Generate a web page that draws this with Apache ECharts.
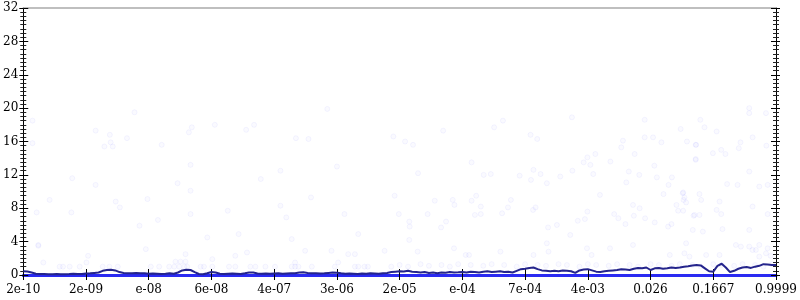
<!DOCTYPE html>
<html>
<head>
<meta charset="utf-8">
<script src="https://cdn.jsdelivr.net/npm/echarts@6/dist/echarts.min.js"></script>
<style>html,body{margin:0;padding:0;background:#fff}#c{width:800px;height:300px}</style>
</head>
<body>
<div id="c"></div>
<script>
// tick labels along x (one every 15 steps)
var tickLabels = ['2e-10','2e-09','e-08','6e-08','4e-07','3e-06','2e-05','e-04','7e-04','4e-03','0.026','0.1667','0.9999'];
// line values, 181 steps
var lineValues = [
 0.45,0.42,0.3,0.15,0.12,0.12,0.1,0.1,0.12,0.1,0.1,0.12,0.15,0.12,0.12,
 0.18,0.2,0.25,0.3,0.5,0.6,0.62,0.55,0.35,0.25,0.2,0.22,0.25,0.2,0.22,
 0.15,0.18,0.15,0.12,0.15,0.2,0.15,0.3,0.55,0.62,0.6,0.35,0.12,0.1,0.2,
 0.35,0.3,0.15,0.12,0.15,0.18,0.15,0.12,0.2,0.3,0.3,0.18,0.15,0.18,0.15,
 0.18,0.2,0.15,0.18,0.2,0.22,0.3,0.32,0.25,0.2,0.22,0.18,0.2,0.25,0.3,
 0.28,0.2,0.15,0.18,0.15,0.12,0.18,0.15,0.2,0.18,0.15,0.2,0.25,0.35,0.4,
 0.45,0.42,0.5,0.4,0.35,0.3,0.35,0.25,0.3,0.22,0.3,0.28,0.35,0.3,0.32,
 0.35,0.3,0.4,0.35,0.3,0.38,0.45,0.35,0.4,0.45,0.35,0.4,0.3,0.5,0.7,
 0.75,0.85,0.9,0.7,0.55,0.5,0.45,0.5,0.45,0.55,0.5,0.45,0.25,0.55,0.65,
 0.7,0.55,0.4,0.35,0.45,0.5,0.55,0.6,0.7,0.65,0.6,0.75,0.85,0.8,0.9,
 0.6,0.8,0.85,0.75,0.8,0.9,0.85,0.9,1.0,1.05,1.15,1.2,1.15,0.8,0.45,
 0.4,1.1,1.35,0.9,0.35,0.5,0.75,0.9,0.95,0.85,1.0,1.1,1.3,1.25,1.2,
 1.2
];
// faint scatter points [step, value]
var scatterPoints = [
 [2.2,18.5],[2.2,15.8],[3.2,7.5],[3.6,3.5],[4.8,1.5],[6.3,9],[11.5,7.5],[11.7,11.6],[17.3,17.3],[17.3,10.8],[15.5,2.3],[15.1,1.5],
 [20.7,16.8],[20.9,15.9],[19.4,15.4],[21.4,15.4],[24.8,16.4],[33.1,15.6],[39.6,17.1],[40.3,17.7],[45.8,18],[53.3,17.4],[55.2,18],
 [65.2,16.4],[68.2,16.3],[72.7,19.9],[88.5,16.6],[26.6,19.5],[40,13.2],[61.5,12.5],[56.8,11.5],[75,13],[36.9,11],[40,10.1],
 [22.1,8.8],[23.1,8.1],[29.7,9.1],[68.8,9.3],[88.8,9.5],[32.2,6.6],[27.8,5.9],[40,7.3],[48.9,7.7],[61.5,8.3],[62.9,6.9],[76.8,7.3],[89.8,7.3],
 [131.2,18.9],[114.7,18.5],[112.6,17.7],[100.4,17.3],[148.6,18.6],[157.2,17.5],[121.3,16.8],[122.9,16.3],[91.3,16],[93.2,15.6],
 [143.4,16.1],[143,15.3],[148.6,16.5],[150.6,16.5],[152.6,15.9],[158.7,16],[160.8,15.6],[146.2,14.5],[136.8,14.5],[134.9,14.1],
 [134,13.5],[135.6,13.2],[140.4,13.6],[107.2,13.5],[160.8,13.8],[150.9,13.1],[94.4,12.2],[110.1,12],[111.8,12.1],[122,12.6],
 [123.7,12.1],[118.7,11.9],[121.4,11.4],[125.2,11],[128.4,11.8],[131.3,12.5],[136.3,12.1],[144.8,12.4],[147.3,12],[144.2,11.1],
 [151.5,11.7],[155.1,11.7],[154.3,10.8],[153.1,9.7],[157.8,9.9],[158.1,9.3],[137.9,9.6],[98.4,8.9],[102.7,9],[103.1,8.4],
 [108.3,9.5],[107.2,8.9],[109.4,8.2],[116.6,9],[115.9,8.1],[122.5,8.1],[121.9,7.8],[145.8,8.4],[147.4,8],[156.2,8.4],[156.6,7.7],
 [157.8,7.7],[158.5,8.7],[96.7,7.3],[108,7.2],[109.4,7.3],[114.5,7.4],[134.9,7.6],[141.3,7.3],[142.3,6.8],[146,7.1],[148.7,6.8],
 [151,6.3],[160.3,7.1],[92.3,6.4],[92.4,5.8],[99.9,5.7],[101.1,6.4],[132.6,6.5],[134.3,6.7],[127.6,6],[125.5,5.7],[144,6.1],[155,6.1],[154.2,5.8],
 [173.6,20],[173.6,19.4],[177.6,19.4],[161.9,18.6],[162.9,17.7],[165.8,17.2],[174.4,16.5],[171.5,15.9],[160.9,15.6],[177.7,15.5],
 [164.9,14.6],[166.9,15],[167.9,14.5],[171.1,15.2],[160.8,13.9],[173.6,12.4],[168.3,10.9],[170.8,10.8],[176,10.6],[178,10.8],
 [157.7,9.8],[161.7,9.7],[157.9,9],[162.1,9],[166.5,8.8],[165.8,7.8],[166.9,7.3],[160.5,7.2],[161.7,7.2],[174.4,8.2],[178,7.3],
 [160.1,5.4],[162.5,5.2],[167.2,5.5],[173.6,5.4],[171.6,3.4],[173.6,3.4],[176,3.6],[175.2,3],[178,3.2],[158.1,2.6],[159.3,2.2],[177.6,2.6],[178.7,2.3],
 [3.6,3.6],[29.3,3.1],[38.8,2.5],[44,4.5],[45.2,1.9],[51.5,4.9],[50.7,2.3],[53.5,2.7],[64.2,4.3],[67.4,2.9],[65,1.5],[73.7,2.9],
 [77.7,2.5],[79.3,2.5],[80.1,4.9],[86.4,2.9],[75.3,1.5],[36.4,1.6],[37.6,1.6],[38.8,1.6],
 [8.7,1],[9.5,1],[11.1,1],[13.5,1],[19,1],[20.6,1],[22.6,1],[30.5,1],[32.5,1],[34.9,1],[36.1,1],[37.3,1],[38.5,1],[39.2,1],
 [42.4,1],[43.2,1],[45.2,1],[49.2,1],[50.7,1],[54.3,1],[55.5,1],[57.9,1],[60.2,1],[64.2,1],[65,1],[65.8,1],[69,1],[74.5,1],
 [79.3,1],[80.1,1],[81.6,1],[82.4,1],[88,1],
 [92.3,4.2],[94.3,2.8],[105.8,2.4],[106.6,2.4],[103,3.2],[125.2,3.8],[130.8,4.8],[114.1,2.8],[122,2.4],[125.6,2.8],[134.8,3.2],
 [135.9,2.4],[140.3,3.2],[145.8,3.6],[154.6,2.4],[158.5,3.8],[163.3,2.4],[166.5,2.4],[170.4,3.6],[174.4,3],[176,2.2],
 [90,1.2],[92,1.0],[95,1.3],[97,1.1],[100,1.2],[102,1.0],[104,1.3],[107,1.2],[110,1.1],[112,1.3],[115,1.2],[118,1.0],[120,1.3],
 [123,1.2],[125,1.1],[128,1.3],[130,1.2],[133,1.0],[135,1.3],[137,1.2],[140,1.1],[142,1.3],[145,1.2],[147,1.0],[150,1.3],
 [152,1.2],[155,1.1],[157,1.3],[160,1.2],[162,1.0],[165,1.3],[167,1.2],[170,1.1],[172,1.3],[175,1.2],[177,1.0],[179,1.3]
];

var lineData = lineValues.map(function (v, i) { return [i, v]; });
var lastStep = lineValues.length - 1;
var step = lastStep / (tickLabels.length - 1);
var font = 'DejaVu Serif';

function xAx(extra) {
  var base = {
    type: 'value', min: 0, max: lastStep, interval: step,
    splitLine: { show: false },
    axisLine: { show: false, onZero: false },
    axisTick: { show: false },
    axisLabel: { show: false }
  };
  for (var k in extra) base[k] = extra[k];
  return base;
}
function yAx(extra) {
  var base = {
    type: 'value', min: 0, max: 32, interval: 4,
    splitLine: { show: false },
    axisLine: { show: false, onZero: false },
    axisTick: { show: false },
    axisLabel: { show: false },
    minorTick: { show: false }
  };
  for (var k in extra) base[k] = extra[k];
  return base;
}

var chart = echarts.init(document.getElementById('c'), null, { renderer: 'canvas' });
chart.setOption({
  animation: false,
  backgroundColor: '#fff',
  grid: { left: 21, right: 23, top: 8, bottom: 25, containLabel: false },
  xAxis: [
    xAx({ position: 'bottom',
      axisLine: { show: true, onZero: false, lineStyle: { color: '#2a2af2', width: 3 } },
      axisTick: { show: true, inside: false, length: 5, lineStyle: { color: '#000', width: 1 } },
      axisLabel: { show: true, margin: 9, color: '#000', fontFamily: font, fontSize: 12,
        formatter: function (v) { var i = Math.round(v / step); return tickLabels[i] || ''; } } }),
    xAx({ position: 'bottom',
      axisTick: { show: true, inside: true, length: 6, lineStyle: { color: '#000', width: 1 } } }),
    xAx({ position: 'top',
      axisLine: { show: true, onZero: false, lineStyle: { color: '#aaaaaa', width: 1.5 } } })
  ],
  yAxis: [
    yAx({ position: 'left',
      axisLine: { show: true, onZero: false, lineStyle: { color: '#000', width: 1 } },
      axisTick: { show: true, inside: false, length: 4, lineStyle: { color: '#000' } },
      minorTick: { show: true, splitNumber: 8, length: 3, lineStyle: { color: '#222' } },
      axisLabel: { show: true, margin: 5, color: '#000', fontFamily: font, fontSize: 12 } }),
    yAx({ position: 'left',
      axisTick: { show: true, inside: true, length: 5, lineStyle: { color: '#000' } },
      minorTick: { show: true, splitNumber: 8, length: 3, lineStyle: { color: '#222' } } }),
    yAx({ position: 'right',
      axisLine: { show: true, onZero: false, lineStyle: { color: '#000', width: 1 } },
      axisTick: { show: true, inside: false, length: 4, lineStyle: { color: '#000' } },
      minorTick: { show: true, splitNumber: 8, length: 3, lineStyle: { color: '#222' } } }),
    yAx({ position: 'right',
      axisTick: { show: true, inside: true, length: 5, lineStyle: { color: '#000' } },
      minorTick: { show: true, splitNumber: 8, length: 3, lineStyle: { color: '#222' } } })
  ],
  series: [
    {
      type: 'scatter', xAxisIndex: 0, yAxisIndex: 0,
      data: scatterPoints, symbol: 'circle', symbolSize: 5,
      itemStyle: { color: 'rgba(110,110,255,0.04)', borderColor: 'rgba(110,110,255,0.09)', borderWidth: 1 },
      silent: true, z: 1
    },
    {
      type: 'line', xAxisIndex: 0, yAxisIndex: 0,
      data: lineData, showSymbol: false, symbol: 'none',
      lineStyle: { color: '#24248c', width: 2 },
      silent: true, z: 3
    }
  ]
});
</script>
</body>
</html>
